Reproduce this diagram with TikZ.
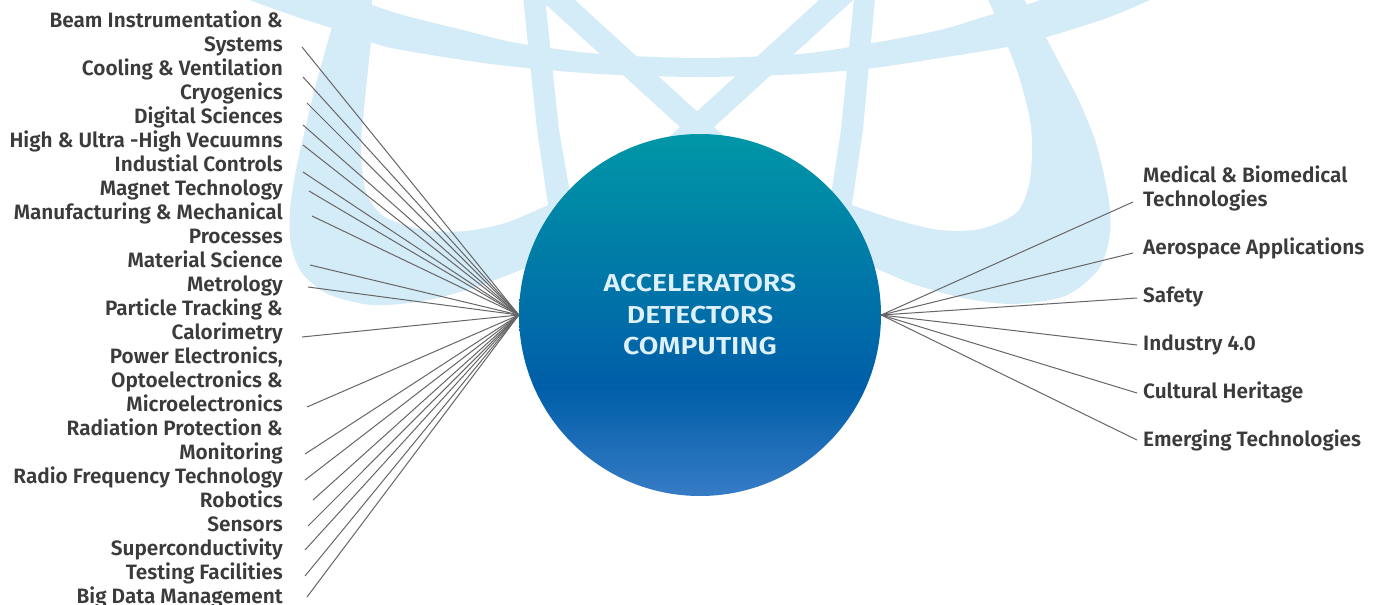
\documentclass[tikz,border=0pt]{standalone}
\usepackage{fontspec}
\setmainfont{Fira Sans}[BoldFont={Fira Sans SemiBold}]
\newfontfamily\corefont{Fira Sans SemiBold}[FakeStretch=1.16]
\definecolor{atom}{RGB}{212,235,248}
\definecolor{labc}{RGB}{59,59,59}
\definecolor{wirec}{RGB}{102,102,102}
\definecolor{orbtop}{RGB}{0,151,167}
\definecolor{orbmid}{RGB}{0,94,168}
\definecolor{orbbot}{RGB}{55,123,197}
\definecolor{coretext}{RGB}{222,240,250}
\pgfdeclareverticalshading{orb}{100bp}{color(0bp)=(orbbot); color(25bp)=(orbbot); color(40bp)=(orbmid); color(75bp)=(orbtop); color(100bp)=(orbtop)}
\begin{document}
\begin{tikzpicture}[x=1pt,y=-1pt,
  lbl/.style={font=\fontsize{20.8}{24}\selectfont\bfseries, text=labc, inner sep=0pt, align=right, anchor=base east},
  rlbl/.style={font=\fontsize{20.8}{24}\selectfont\bfseries, text=labc, inner sep=0pt, align=left, anchor=base west},
  wire/.style={draw=wirec, line width=1pt},
  band/.style={draw=atom, line width=23pt}]
\clip (0,0) rectangle (1379,605);
\fill[white] (0,0) rectangle (1379,605);
% ---- background atom ----
\fill[atom] plot[smooth] coordinates {(342,-12) (334,20) (324,55) (314,92) (305,130) (296,170) (290,210) (291,245) (302,273) (328,294) (372,305) (423,301) (473,288) (523,269) (575,248) (630,228)} -- (573,210) -- (559,130) -- (544,-12) -- cycle;
\fill[white] plot[smooth] coordinates {(372,-12) (372,30) (368,70) (364,110) (361,150) (366,192) (385,217) (425,230) (465,231) (505,223) (548,205)} -- (537,130) -- (522,-12) -- cycle;
\fill[atom] plot[smooth] coordinates {(1018,-12) (1030,10) (1045,36) (1062,68) (1080,103) (1095,140) (1104,175) (1110,210) (1109,240) (1098,270) (1065,296) (1013,304) (963,298) (913,284) (875,268) (815,245)} -- (829,208) -- (841,130) -- (855,-12) -- cycle;
\fill[white] plot[smooth] coordinates {(982,-12) (995,15) (1008,47) (1020,80) (1030,120) (1032,150) (1029,185) (1016,213) (980,229) (940,230) (897,220) (852,205)} -- (863,130) -- (876,-12) -- cycle;
\fill[atom] plot[smooth] coordinates {(300,-30) (360,0) (403,15) (463,30) (517,43) (600,54) (700,58) (800,54) (873,43) (940,30) (990,15) (1040,0) (1100,-30)} -- (1190,-30) -- plot[smooth] coordinates {(1150,0) (1107,18) (1047,37) (1007,47) (940,58) (873,68) (800,74) (700,77) (600,74) (517,67) (463,60) (387,47) (347,33) (297,17) (250,0) (215,-15)} -- (215,-30) -- cycle;
\draw[band] (536,-20) -- (755,180);
\draw[band] (858,-20) -- (639,180);
% ---- centre ----
\node[circle, minimum size=362pt, inner sep=0pt, shade, shading=orb,
      font=\corefont\fontsize{24.5}{31.5}\selectfont, text=coretext, align=center]
      (core) at (700,315) {ACCELERATORS\\DETECTORS\\COMPUTING};
% ---- left labels (anchor = baseline of last line) ----
\node[lbl] (l1) at (283,51.3) {Beam Instrumentation \&\\Systems};
\node[lbl] (l2) at (283,75.3) {Cooling \& Ventilation};
\node[lbl] (l3) at (283,99.3) {Cryogenics};
\node[lbl] (l4) at (283,123.3) {Digital Sciences};
\node[lbl] (l5) at (283,147.3) {High \& Ultra -High Vecuumns};
\node[lbl] (l6) at (283,171.3) {Industial Controls};
\node[lbl] (l7) at (283,195.3) {Magnet Technology};
\node[lbl] (l8) at (283,243.3) {Manufacturing \& Mechanical\\Processes};
\node[lbl] (l9) at (283,267.3) {Material Science};
\node[lbl] (l10) at (283,291.3) {Metrology};
\node[lbl] (l11) at (283,339.3) {Particle Tracking \&\\Calorimetry};
\node[lbl] (l12) at (283,411.3) {Power Electronics,\\Optoelectronics \&\\Microelectronics};
\node[lbl] (l13) at (283,459.3) {Radiation Protection \&\\Monitoring};
\node[lbl] (l14) at (283,483.3) {Radio Frequency Technology};
\node[lbl] (l15) at (283,507.3) {Robotics};
\node[lbl] (l16) at (283,531.3) {Sensors};
\node[lbl] (l17) at (283,555.3) {Superconductivity};
\node[lbl] (l18) at (283,579.3) {Testing Facilities};
\node[lbl] (l19) at (283,603.3) {Big Data Management};
% ---- right labels ----
\node[rlbl] (r1) at (1143,206) {Medical \& Biomedical\\Technologies};
\node[rlbl] (r2) at (1143,254) {Aerospace Applications};
\node[rlbl] (r3) at (1143,302) {Safety};
\node[rlbl] (r4) at (1143,350) {Industry 4.0};
\node[rlbl] (r5) at (1143,398) {Cultural Heritage};
\node[rlbl] (r6) at (1143,446) {Emerging Technologies};
% ---- connector ends ----
\coordinate (e1) at (302,47);
\coordinate (e2) at (303,77);
\coordinate (e3) at (307,103);
\coordinate (e4) at (303,125);
\coordinate (e5) at (303,145);
\coordinate (e6) at (303,172);
\coordinate (e7) at (309,191);
\coordinate (e8) at (312,216);
\coordinate (e9) at (310,265);
\coordinate (e10) at (308,287);
\coordinate (e11) at (302,337);
\coordinate (e12) at (307,407);
\coordinate (e13) at (305,454);
\coordinate (e14) at (305,480);
\coordinate (e15) at (313,500);
\coordinate (e16) at (308,526);
\coordinate (e17) at (305,550);
\coordinate (e18) at (305,576);
\coordinate (e19) at (307,597);
\coordinate (f1) at (1133,202);
\coordinate (f2) at (1133,253);
\coordinate (f3) at (1137,298);
\coordinate (f4) at (1137,345);
\coordinate (f5) at (1137,393);
\coordinate (f6) at (1137,440);
\foreach \i in {1,...,19} {\draw[wire] (core.west) -- (e\i);}
\foreach \i in {1,...,6} {\draw[wire] (core.east) -- (f\i);}
\end{tikzpicture}
\end{document}
